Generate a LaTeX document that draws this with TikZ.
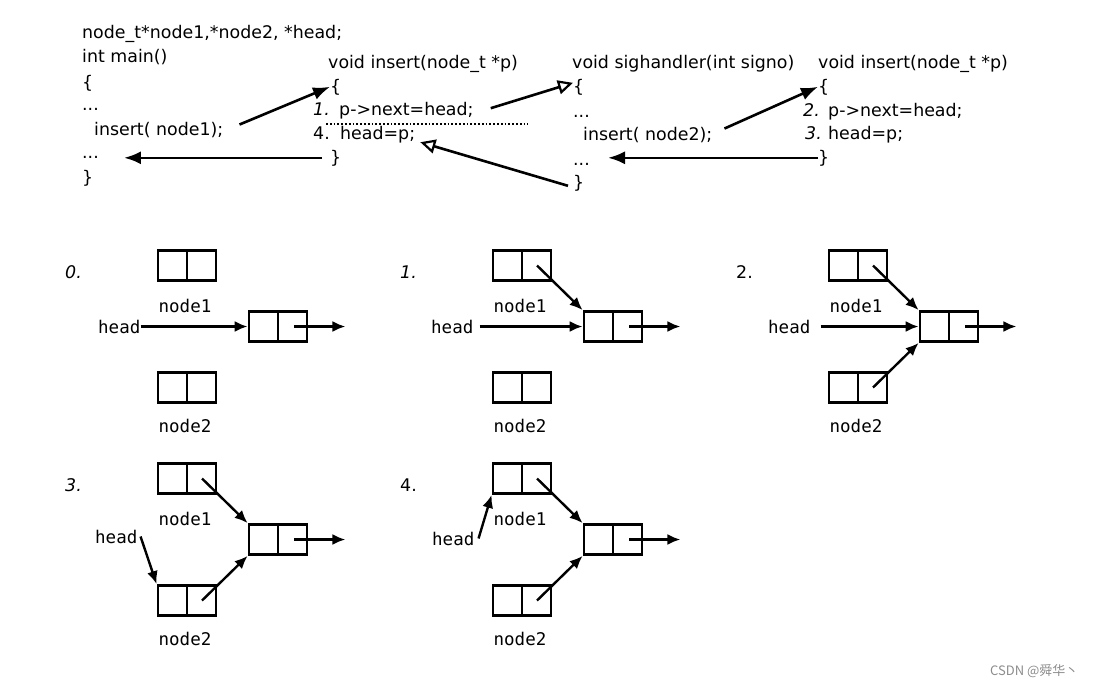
\documentclass[tikz,border=0pt]{standalone}
\usepackage{fontspec}
\setmainfont{DejaVu Sans}
\newfontfamily\labelfont{DejaVu Sans Mono}
\newfontfamily\cjk{Noto Sans CJK SC}
\usetikzlibrary{arrows.meta}

\begin{document}
\begin{tikzpicture}[x=1pt,y=-1pt,
  code/.style={anchor=base west,inner sep=0pt,font=\fontsize{17.4}{20}\selectfont},
  lbl/.style={anchor=base,inner sep=0pt,font=\labelfont\fontsize{17.5}{20}\selectfont},
  call/.style={line width=2.6pt,-{Latex[length=17pt,width=13pt]}},
  irq/.style={line width=2.6pt,-{Triangle[open,length=15pt,width=14pt,line width=2.2pt]}},
  cell/.style={draw,line width=2.8pt,minimum width=58pt,minimum height=30pt,inner sep=0pt,
    path picture={\draw[line width=2.8pt] (path picture bounding box.north) -- (path picture bounding box.south);}},
  link/.style={line width=2.4pt,-{Latex[length=13pt,width=11pt]}}]
  \useasboundingbox (0,0) rectangle (1097,686);
  % main()
  \node[code] (decl) at (82,38) {node\_t*node1,*node2, *head;};
  \node[code] (main) at (82,62) {int main()};
  \node[code] (lb1) at (82,88) {\{};
  \node[code] (dots1) at (82,110) {...};
  \node[code] (ins1) at (94,135) {insert( node1);};
  \node[code] (dots2) at (82,158) {...};
  \node[code] (rb1) at (82,183) {\}};
  % first insert()
  \node[code] (insa) at (328,68) {void insert(node\_t *p)};
  \node[code] (lb2) at (330,92) {\{};
  \node[code] (n1) at (313,115) {\textit{1.}};
  \node[code] (st1) at (339,115) {p->next=head;};
  \node[code] (n4) at (313,139) {4.};
  \node[code] (st4) at (340,139) {head=p;};
  \node[code] (rb2) at (330,163) {\}};
  \draw[dotted,line width=1.8pt] (326,124) -- (528,124);
  % sighandler()
  \node[code] (sig) at (572,68) {void sighandler(int signo)};
  \node[code] (lb3) at (573,92) {\{};
  \node[code] (dots3) at (573,117) {...};
  \node[code] (ins2) at (583,140) {insert( node2);};
  \node[code] (dots4) at (573,165) {...};
  \node[code] (rb3) at (573,188) {\}};
  % second insert()
  \node[code] (insb) at (818,68) {void insert(node\_t *p)};
  \node[code] (lb4) at (818,92) {\{};
  \node[code] (n2) at (803,116) {\textit{2.}};
  \node[code] (st2) at (828,116) {p->next=head;};
  \node[code] (n3) at (805,139) {\textit{3.}};
  \node[code] (st3) at (828,139) {head=p;};
  \node[code] (rb4) at (818,163) {\}};
  % calls and returns
  \draw[call] ([xshift=16pt,yshift=5pt]ins1.east) -- (lb2.west);
  \draw[call,shorten <=8pt,shorten >=25pt] (rb2.west) -- (rb2.west -| dots2.east);
  \draw[irq] ([xshift=17pt,yshift=2pt]st1.east) -- ([yshift=4pt]lb3.west);
  \draw[irq] ([xshift=-5pt,yshift=-3pt]rb3.west) -- ([xshift=5pt,yshift=-8pt]st4.east);
  \draw[call] ([xshift=12pt,yshift=6pt]ins2.east) -- (lb4.west);
  \draw[call,shorten >=18pt] (rb4.west) -- (rb4.west -| dots4.east);
  % list states 0..4
  \foreach \i/\dx/\dy/\num in {0/0/0/\textit{0.},1/335/0/\textit{1.},2/671/0/2.,3/0/213/\textit{3.},4/335/213/4.}{
    \node[code] (st\i) at (65+\dx,278+\dy) {\num};
    \node[cell] (na\i) at (187+\dx,265.5+\dy) {};
    \node[cell] (nm\i) at (278+\dx,326.5+\dy) {};
    \node[cell] (nb\i) at (187+\dx,387.5+\dy) {};
    \node[lbl] (la\i) at (185+\dx,312+\dy) {node1};
    \node[lbl] (lc\i) at (185+\dx,432+\dy) {node2};
    \draw[link] ([xshift=16pt]nm\i.center) -- ([xshift=37pt]nm\i.east);
  }
  % head
  \node[lbl,anchor=base west] (hd0) at (98,333) {head};
  \node[lbl,anchor=base west] (hd1) at (431,333) {head};
  \node[lbl,anchor=base west] (hd2) at (768,333) {head};
  \node[lbl,anchor=base west] (hd3) at (95,543) {head};
  \node[lbl,anchor=base west] (hd4) at (432,545) {head};
  \draw[link] (hd0.east |- nm0.west) -- (nm0.west);
  \draw[link,shorten <=6pt] (hd1.east |- nm1.west) -- (nm1.west);
  \draw[link,shorten <=10pt] (hd2.east |- nm2.west) -- (nm2.west);
  \draw[link] ([xshift=3pt]hd3.east) -- (nb3.north west);
  \draw[link] ([xshift=4pt]hd4.east) -- (na4.south west);
  % next pointers of node1 and node2
  \foreach \i in {1,2,3,4}
    \draw[link] ([xshift=15pt]na\i.center) -- (nm\i.north west);
  \foreach \i in {2,3,4}
    \draw[link] ([xshift=15pt]nb\i.center) -- (nm\i.south west);
  \node[anchor=base east,text=black!45,font=\cjk\fontsize{13}{15}\selectfont] (wm) at (1082,675) {CSDN @舜华丶};
\end{tikzpicture}
\end{document}
